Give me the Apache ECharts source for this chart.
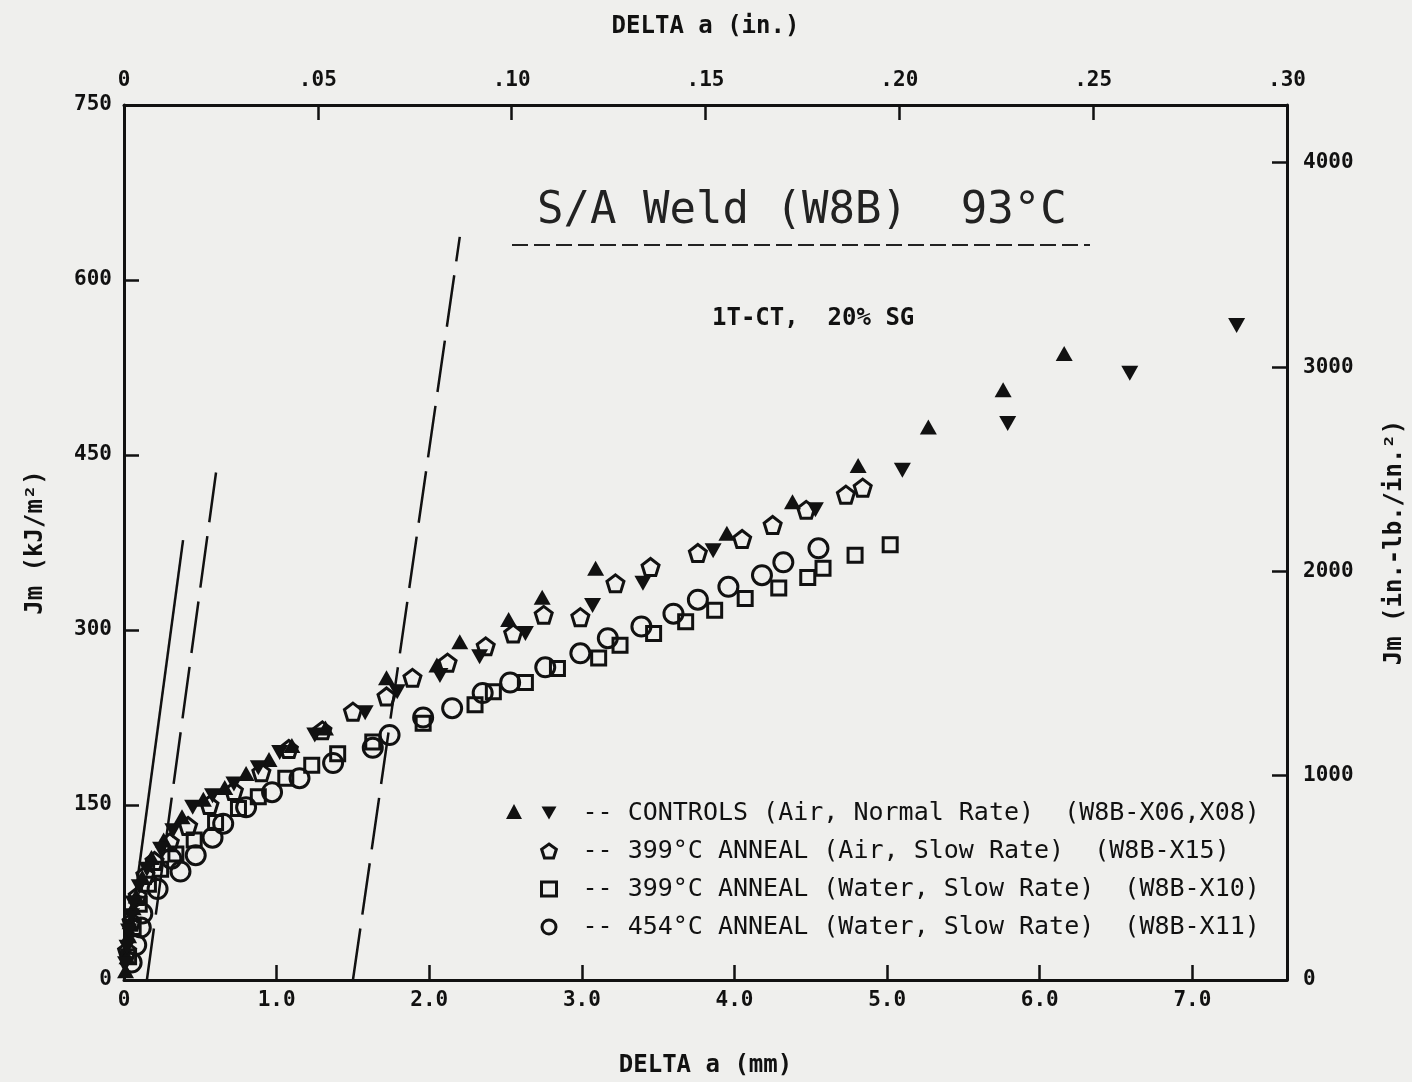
<!DOCTYPE html>
<html>
<head>
<meta charset="utf-8">
<script src="https://cdn.jsdelivr.net/npm/echarts@6/dist/echarts.min.js"></script>
<style>
html, body { margin: 0; padding: 0; background: #efefed; }
#chart { width: 1412px; height: 1082px; }
</style>
</head>
<body>
<div id="chart"></div>
<script>
// axis ranges: 0.30 in = 7.62 mm on x, 750 kJ/m2 on y
const mmMax = 7.62;
const inMax = 0.30;
const jMax = 750;
const kjPerInlb = 0.175127;

// [delta a (mm), Jm (kJ/m2)]
const controlsUp = [
  [0.01, 8], [0.02, 20], [0.03, 38], [0.04, 50], [0.06, 62], [0.08, 72],
  [0.12, 88], [0.18, 105], [0.26, 120], [0.38, 140], [0.52, 155], [0.66, 165],
  [0.80, 177], [0.95, 189], [1.10, 201], [1.32, 216], [1.72, 259], [2.05, 270],
  [2.20, 290], [2.52, 309], [2.74, 328], [3.09, 353], [3.95, 383], [4.38, 410],
  [4.81, 441], [5.27, 474], [5.76, 506], [6.16, 537]
];
const controlsDown = [
  [0.01, 14], [0.02, 28], [0.03, 42], [0.05, 55], [0.06, 66], [0.10, 80],
  [0.15, 95], [0.24, 112], [0.32, 128], [0.45, 148], [0.58, 158], [0.72, 168],
  [0.88, 182], [1.02, 195], [1.25, 210], [1.58, 229], [1.79, 247], [2.07, 261],
  [2.33, 277], [2.63, 297], [3.07, 321], [3.40, 340], [3.86, 368], [4.53, 403],
  [5.10, 437], [5.79, 477], [6.59, 520], [7.29, 561]
];
const airSlow399 = [
  [0.02, 25], [0.05, 50], [0.09, 72], [0.14, 90], [0.20, 102], [0.30, 118],
  [0.42, 132], [0.56, 150], [0.72, 162], [0.90, 178], [1.08, 198], [1.30, 214],
  [1.50, 230], [1.72, 243], [1.89, 259], [2.12, 272], [2.37, 286], [2.55, 297],
  [2.75, 313], [2.99, 311], [3.22, 340], [3.45, 354], [3.76, 366], [4.05, 378],
  [4.25, 390], [4.47, 403], [4.73, 416], [4.84, 422]
];
const waterSlow399 = [
  [0.03, 20], [0.06, 45], [0.10, 65], [0.16, 82], [0.24, 95], [0.34, 108],
  [0.46, 120], [0.60, 135], [0.75, 147], [0.88, 157], [1.06, 173], [1.23, 184],
  [1.40, 194], [1.63, 204], [1.96, 220], [2.30, 236], [2.42, 247], [2.63, 255],
  [2.84, 267], [3.11, 276], [3.25, 287], [3.47, 297], [3.68, 307], [3.87, 317],
  [4.07, 327], [4.29, 336], [4.48, 345], [4.58, 353], [4.79, 364], [5.02, 373]
];
const waterSlow454 = [
  [0.05, 15], [0.08, 30], [0.11, 45], [0.12, 57], [0.22, 78], [0.31, 104],
  [0.37, 93], [0.47, 107], [0.58, 122], [0.65, 134], [0.80, 148], [0.97, 161],
  [1.15, 173], [1.37, 186], [1.63, 199], [1.74, 210], [1.96, 225], [2.15, 233],
  [2.35, 246], [2.53, 255], [2.76, 268], [2.99, 280], [3.17, 293], [3.39, 303],
  [3.60, 314], [3.76, 326], [3.96, 337], [4.18, 347], [4.32, 358], [4.55, 370]
];

// blunting line and its offset lines
const bluntLine = [[0, 0], [0.387, 377]];
const offsetLine1 = [[0.15, 0], [0.603, 435]];
const offsetLine2 = [[1.5, 0], [2.2, 637]];

const legendLabels = {
  X08: '-- CONTROLS (Air, Normal Rate)  (W8B-X06,X08)',
  X15: '-- 399°C ANNEAL (Air, Slow Rate)  (W8B-X15)',
  X10: '-- 399°C ANNEAL (Water, Slow Rate)  (W8B-X10)',
  X11: '-- 454°C ANNEAL (Water, Slow Rate)  (W8B-X11)'
};

const ink = '#111';
const monoFont = '"DejaVu Sans Mono", monospace';
const downTri = 'path://M0,0 L100,0 L50,87 Z';
const pentagon = 'path://M50,0 L97.6,34.5 L79.4,90.5 L20.6,90.5 L2.4,34.5 Z';

const tickLabel = { color: ink, fontFamily: monoFont, fontWeight: 'bold', fontSize: 21 };
const axisName = { color: ink, fontFamily: monoFont, fontWeight: 'bold', fontSize: 24 };

const baseAxis = (extra) => Object.assign({
  type: 'value',
  axisLine: { show: true, onZero: false, lineStyle: { color: ink, width: 3 } },
  axisTick: { show: true, inside: true, length: 15, lineStyle: { color: ink, width: 2.5 } },
  splitLine: { show: false },
  nameLocation: 'middle',
  nameTextStyle: axisName
}, extra);

const onStep = (v, step) => Math.abs(v / step - Math.round(v / step)) < 1e-6;

const openItem = { color: 'rgba(0,0,0,0)', borderColor: ink, borderWidth: 3, opacity: 1 };
const solidItem = { color: ink, opacity: 1 };
const lineSeries = (data, dashed) => ({
  type: 'line', data, symbol: 'none', silent: true, z: 1,
  lineStyle: { color: ink, width: 2.5, type: dashed ? [52, 14] : 'solid' }
});

const chart = echarts.init(document.getElementById('chart'));
chart.setOption({
  animation: false,
  backgroundColor: '#efefed',
  grid: { left: 124, right: 125, top: 105, bottom: 102, containLabel: false, outerBoundsMode: 'none' },
  xAxis: [
    baseAxis({
      position: 'bottom', min: 0, max: mmMax, interval: 1,
      name: 'DELTA a (mm)', nameGap: 74,
      axisLabel: Object.assign({}, tickLabel, { margin: 10,
        formatter: v => !onStep(v, 1) ? '' : (v === 0 ? '0' : v.toFixed(1)) })
    }),
    baseAxis({
      position: 'top', min: 0, max: inMax, interval: 0.05,
      name: 'DELTA a (in.)', nameGap: 66,
      axisLabel: Object.assign({}, tickLabel, { margin: 14,
        formatter: v => v === 0 ? '0' : v.toFixed(2).replace(/^0/, '') })
    })
  ],
  yAxis: [
    baseAxis({
      position: 'left', min: 0, max: jMax, interval: 150,
      name: 'Jm (kJ/m²)', nameGap: 76, nameRotate: 90,
      axisLabel: Object.assign({}, tickLabel, { margin: 12 })
    }),
    baseAxis({
      position: 'right', min: 0, max: jMax / kjPerInlb, interval: 1000,
      name: 'Jm (in.-lb./in.²)', nameGap: 96, nameRotate: 90,
      axisLabel: Object.assign({}, tickLabel, { margin: 16,
        formatter: v => onStep(v, 1000) ? String(v) : '' })
    })
  ],
  legend: [
    {
      data: ['X06'], left: 501, top: 799, itemWidth: 16, itemHeight: 15,
      formatter: () => '', selectedMode: false
    },
    {
      data: ['X08', 'X15', 'X10', 'X11'], orient: 'vertical', left: 535, top: 794,
      itemWidth: 15, itemHeight: 14, itemGap: 10, selectedMode: false,
      itemStyle: { borderWidth: 3 },
      formatter: name => legendLabels[name],
      textStyle: { color: ink, fontFamily: monoFont, fontSize: 25, lineHeight: 28, padding: [0, 0, 0, 21] }
    }
  ],
  graphic: [
    {
      type: 'text', left: 537, top: 190,
      style: { text: 'S/A Weld (W8B)  93°C', fill: '#222', font: '44px "DejaVu Sans Mono"' }
    },
    {
      type: 'line', shape: { x1: 512, y1: 245, x2: 1090, y2: 245 },
      style: { stroke: '#222', lineWidth: 2, lineDash: [16, 6] }
    },
    {
      type: 'text', left: 712, top: 307,
      style: { text: '1T-CT,  20% SG', fill: ink, font: 'bold 24px "DejaVu Sans Mono"' }
    }
  ],
  series: [
    lineSeries(bluntLine, false),
    lineSeries(offsetLine1, true),
    lineSeries(offsetLine2, true),
    { name: 'X06', type: 'scatter', data: controlsUp, symbol: 'triangle', symbolSize: [17, 15],
      itemStyle: solidItem, z: 3 },
    { name: 'X08', type: 'scatter', data: controlsDown, symbol: downTri, symbolSize: [17, 15],
      itemStyle: solidItem, z: 3 },
    { name: 'X15', type: 'scatter', data: airSlow399, symbol: pentagon, symbolSize: 17,
      itemStyle: openItem, z: 2 },
    { name: 'X10', type: 'scatter', data: waterSlow399, symbol: 'rect', symbolSize: 14,
      itemStyle: openItem, z: 2 },
    { name: 'X11', type: 'scatter', data: waterSlow454, symbol: 'circle', symbolSize: 19,
      itemStyle: openItem, z: 2 }
  ]
});
</script>
</body>
</html>
